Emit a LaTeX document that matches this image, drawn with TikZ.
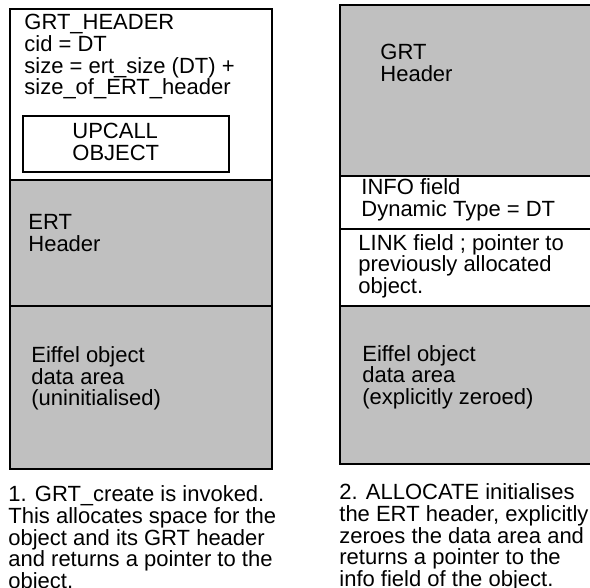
\documentclass[tikz,border=0pt]{standalone}
\usepackage{fontspec}
\setmainfont{Liberation Sans}
\definecolor{areagray}{HTML}{C0C0C0}
\tikzset{
  txt/.style={anchor=base west, inner sep=0pt, align=left,
    font=\fontsize{11}{10.85}\selectfont},
  part/.style={draw=black, line width=0.6pt}
}
\begin{document}
\begin{tikzpicture}[x=0.5pt, y=-0.5pt]
        \useasboundingbox (0,0) rectangle (590,588);
        \clip (0,0) rectangle (590,588);
        % left: after GRT_create (nodes sit on their last baseline)
        \fill[areagray] (10,180) rectangle (272,469);
        \draw[part] (10,9) rectangle (272,469);
        \draw[part] (10,180) -- (272,180);
        \draw[part] (10,306) -- (272,306);
        \draw[part] (23,116) rectangle (229,172);
        \node[txt] (grthead) at (24,95) {GRT\_HEADER\\cid = DT\\size = ert\_size (DT) +\\size\_of\_ERT\_header};
        \node[txt] (upcall) at (72,160.5) {UPCALL\\OBJECT};
        \node[txt] (erthead) at (28,251.5) {ERT\\Header};
        \node[txt] (dataleft) at (31,406) {Eiffel object\\data area\\(uninitialised)};
        \node[txt] (capleft) at (8,588.5) {1. GRT\_create is invoked.\\This allocates space for the\\object and its GRT header\\and returns a pointer to the\\object.};
        % right: after ALLOCATE
        \fill[areagray] (340,5) rectangle (592,176);
        \fill[areagray] (340,306) rectangle (592,464);
        \draw[part] (340,5) rectangle (592,464);
        \draw[part] (340,176) -- (592,176);
        \draw[part] (340,229) -- (592,229);
        \draw[part] (340,306) -- (592,306);
        \node[txt] (grtright) at (380,81.5) {GRT\\Header};
        \node[txt] (info) at (361,216.5) {INFO field\\Dynamic Type = DT};
        \node[txt] (link) at (358,293.5) {LINK field ; pointer to\\previously allocated\\object.};
        \node[txt] (dataright) at (362,404.5) {Eiffel object\\data area\\(explicitly zeroed)};
        \node[txt] (capright) at (339,586.5) {2. ALLOCATE initialises\\the ERT header, explicitly\\zeroes the data area and\\returns a pointer to the\\info field of the object.};
      \end{tikzpicture}
\end{document}
